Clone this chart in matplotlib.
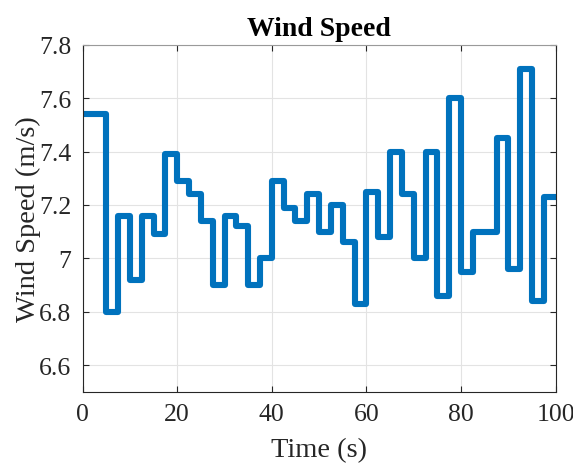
import matplotlib
matplotlib.use("Agg")
import matplotlib.pyplot as plt
import numpy as np

# step start times (s) and wind speed values (m/s), each held for 2.5 s
step_times = [0, 2.5, 5, 7.5, 10, 12.5, 15, 17.5, 20, 22.5,
              25, 27.5, 30, 32.5, 35, 37.5, 40, 42.5, 45, 47.5,
              50, 52.5, 55, 57.5, 60, 62.5, 65, 67.5, 70, 72.5,
              75, 77.5, 80, 82.5, 85, 87.5, 90, 92.5, 95, 97.5]
wind_speed = [7.54, 7.54, 6.80, 7.16, 6.92, 7.16, 7.09, 7.39, 7.29, 7.24,
              7.14, 6.90, 7.16, 7.12, 6.90, 7.00, 7.29, 7.19, 7.14, 7.24,
              7.10, 7.20, 7.06, 6.83, 7.25, 7.08, 7.40, 7.24, 7.00, 7.40,
              6.86, 7.60, 6.95, 7.10, 7.10, 7.45, 6.96, 7.71, 6.84, 7.23]
end_time = 100

x_ticks = [0, 20, 40, 60, 80, 100]
y_ticks = [6.6, 6.8, 7.0, 7.2, 7.4, 7.6, 7.8]
y_tick_labels = ["6.6", "6.8", "7", "7.2", "7.4", "7.6", "7.8"]

plt.rcParams['font.family'] = ['Liberation Serif', 'DejaVu Serif']
plt.rcParams['mathtext.fontset'] = 'stix'

fig = plt.figure(figsize=(5.73, 4.64), dpi=100)
ax = fig.add_axes([0.144, 0.1537, 0.826, 0.7472])

t = list(step_times) + [end_time]
v = list(wind_speed) + [wind_speed[-1]]
ax.step(t, v, where='post', color='#0072BD', linewidth=4.4,
        solid_joinstyle='round', solid_capstyle='butt')

ax.set_xlim(0, 100)
ax.set_ylim(6.5, 7.8)
ax.set_xticks(x_ticks)
ax.set_xticklabels([str(x) for x in x_ticks])
ax.set_yticks(y_ticks)
ax.set_yticklabels(y_tick_labels)
ax.grid(True, color='#e3e3e3', linewidth=0.8)
ax.set_axisbelow(True)
ax.tick_params(direction='in', top=True, right=True, length=4, width=0.8,
               colors='#262626', labelsize=18.5, labelcolor='#262626', pad=8)
for s in ax.spines.values():
    s.set_color('#262626')
    s.set_linewidth(0.8)
ax.spines['top'].set_color('#9a9a9a')

ax.set_xlabel('Time (s)', fontsize=20.5, color='#262626', labelpad=9)
ax.set_ylabel('Wind Speed (m/s)', fontsize=20.5, color='#262626', labelpad=-1)
ax.set_title('Wind Speed', fontsize=20, fontweight='bold', color='black', pad=7)

fig.savefig('out.png', dpi=100)
